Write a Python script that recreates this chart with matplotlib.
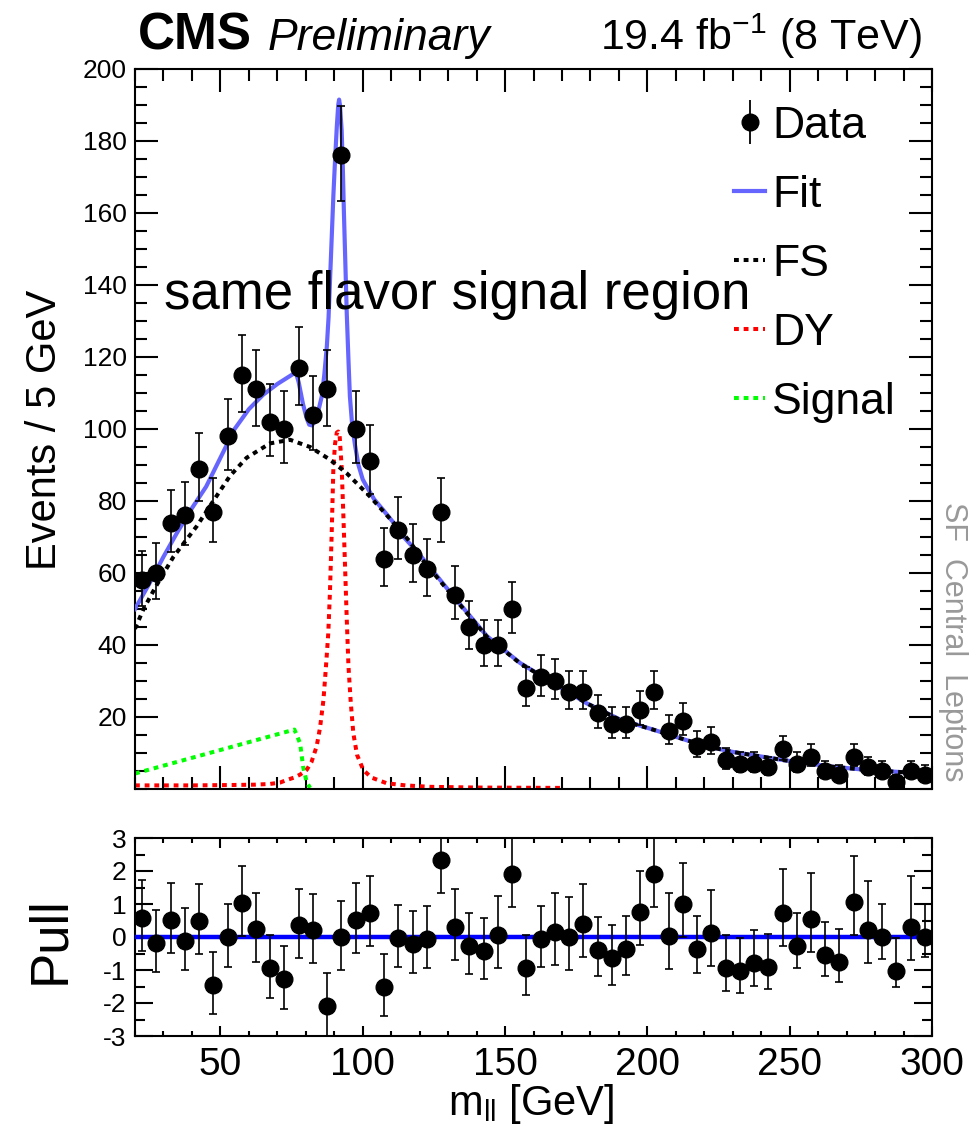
import numpy as np
import matplotlib as mpl
mpl.use('Agg')
import matplotlib.pyplot as plt
from matplotlib.lines import Line2D

mpl.rcParams['font.family'] = ['Liberation Sans', 'DejaVu Sans']
mpl.rcParams['axes.unicode_minus'] = False
mpl.rcParams['mathtext.fontset'] = 'custom'
mpl.rcParams['mathtext.rm'] = 'Liberation Sans'
mpl.rcParams['mathtext.it'] = 'Liberation Sans:italic'

# ---- data ----
mll = np.arange(22.5, 300, 5)   # bin centres, 5 GeV bins
counts = [58, 60, 74, 76, 89, 77, 98, 115, 111, 102,
          100, 117, 104, 111, 176, 100, 91, 64, 72, 65,
          61, 77, 54, 45, 40, 40, 50, 28, 31, 30,
          27, 27, 21, 18, 18, 22, 27, 16, 19, 12,
          13, 8, 7, 7, 6, 11, 7, 9, 5, 4,
          9, 6, 5, 2, 5, 4]
pulls = [0.59, -0.19, 0.52, -0.11, 0.49, -1.45, -0.01, 1.04, 0.23, -0.93,
         -1.28, 0.36, 0.21, -2.08, 0.0, 0.52, 0.74, -1.52, -0.02, -0.21,
         -0.06, 2.33, 0.31, -0.27, -0.41, 0.06, 1.90, -0.93, -0.06, 0.14,
         0.01, 0.38, -0.39, -0.65, -0.35, 0.76, 1.91, 0.04, 0.99, -0.35,
         0.11, -0.93, -1.02, -0.80, -0.92, 0.72, -0.26, 0.54, -0.55, -0.75,
         1.05, 0.21, -0.01, -1.02, 0.29, -0.01]

# fit curves, sampled from the figure
fit_x = [20, 25, 30, 35, 40, 45, 50, 55, 60, 65, 70, 75, 76.5,
         77.5, 79, 80.3, 81.2, 82.2, 83.2, 84.4, 85.6, 86.5, 87.4, 88.0, 88.5,
         89.1, 89.7, 90.3, 90.9, 91.4, 91.7, 92.0, 92.6, 93.0, 93.4, 93.9, 94.4,
         95.0, 95.5, 96.3, 97.3, 98.5, 100, 101.4, 104, 107.2, 110.8, 114.3,
         120.1, 131.8, 143.6, 155.3, 167, 178.7, 190.4, 202, 214, 223, 230,
         248, 265, 277, 289, 300]
fit_y = [50, 57, 64.5, 71.5, 78, 84, 92, 100, 105.5, 109.5, 112.5, 115, 115.8,
         113, 107, 103, 101.2, 101, 102.5, 105, 109, 115, 123, 131, 141,
         153, 165, 175, 184, 190, 191.5, 190, 183, 173, 160, 146, 132,
         119, 109, 101, 95.5, 90, 86, 84, 80.5, 77.5, 74, 70.1,
         65, 53.6, 42.5, 35, 29.4, 23.8, 19.3, 16.5, 13.5, 11.5, 10.3,
         8.0, 6.2, 5.3, 4.7, 4.3]

fs_x = [20, 23, 27.5, 33.5, 41.7, 47.5, 53.4, 59.2, 67.4, 74.5, 81.5, 88.5,
        94.4, 102.6, 110.8, 116.8, 120.1, 131.8, 143.6, 155.3, 167, 178.7,
        190.4, 202, 214, 223, 230, 248, 265, 277, 289, 300]
fs_y = [44.5, 50, 56.5, 64.5, 73, 80, 87, 92, 96, 97, 95, 91.5,
        87.7, 81.2, 74, 68.5, 64.5, 53.4, 42.3, 34.9, 29.4, 23.8,
        19.2, 16.5, 13.5, 11.5, 10.3, 8.0, 6.2, 5.3, 4.7, 4.3]

dy_x = [20, 40, 53, 62, 67.4, 71, 73.3, 76, 78, 80.3, 82, 83.8, 85, 86.2, 87,
        87.9, 88.5, 89.1, 89.7, 90.3, 90.9, 91.4, 91.9, 92.6, 93.2, 93.8,
        94.4, 95, 95.8, 96.7, 98, 100.2, 103, 108.4, 115, 123.7, 140, 170]
dy_y = [1.0, 1.0, 1.1, 1.2, 1.4, 1.8, 2.5, 3.2, 4.0, 5.3, 7.5, 11.8, 17, 24.7, 33,
        43.2, 55, 71, 89.5, 96, 99, 99.3, 98, 89.5, 76, 61.7,
        47, 34, 24, 15.5, 9.5, 5.3, 3.2, 1.6, 1.0, 0.6, 0.4, 0.3]

sig_x = [20, 76, 78, 79.1, 80.3, 81.5]
sig_y = [4.3, 16.5, 12.7, 6.0, 2.0, 0.3]

# poisson-like asymmetric errors
n = np.array(counts, dtype=float)
err_lo = np.sqrt(n + 0.25) - 0.5
err_hi = np.sqrt(n + 0.25) + 0.5
p = np.array(pulls)
p_lo = np.where(p < 0, err_lo / err_hi, 1.0)
p_hi = np.where(p < 0, 1.0, err_hi / err_lo)

W, H = 980, 1129
fig = plt.figure(figsize=(W / 100, H / 100), dpi=100)
ax = fig.add_axes([135 / W, 1 - 789 / H, 797 / W, 720 / H])
ax2 = fig.add_axes([135 / W, 1 - 1036 / H, 797 / W, 198 / H])

dot = (0, (1.2, 1.2))
dlw = 2.9
ax.plot(sig_x, sig_y, color='#00ff00', lw=dlw, ls=dot, zorder=2)
ax.plot(dy_x, dy_y, color='#ff0000', lw=dlw, ls=dot, zorder=2)
ax.plot(fit_x, fit_y, color='#6666ff', lw=3, zorder=3)
ax.plot(fs_x, fs_y, color='black', lw=dlw, ls=dot, zorder=4)
ax.errorbar(mll, counts, yerr=[err_lo, err_hi], fmt='o', color='black', ms=12,
            ecolor='black', elinewidth=1.2, capsize=3, capthick=1.2, zorder=5)

ax.set_xlim(20, 300)
ax.set_ylim(0, 200)
ax.set_yticks(np.arange(20, 201, 20))
ax.set_yticks(np.arange(0, 201, 5), minor=True)
ax.set_xticks(np.arange(50, 301, 50))
ax.set_xticks(np.arange(20, 301, 10), minor=True)
ax.tick_params(which='both', direction='in', top=True, right=True, width=1.5,
               labelbottom=False, labelsize=19, pad=6)
ax.tick_params(which='major', length=16.5)
ax.tick_params(which='minor', length=8.6)

data_h = (Line2D([], [], marker='|', ms=32, mew=1.3, color='black', ls='none'),
          Line2D([], [], marker='o', ms=12, color='black', ls='none'))
h = [data_h,
     Line2D([], [], color='#6666ff', lw=3),
     Line2D([], [], color='black', lw=dlw, ls=dot),
     Line2D([], [], color='#ff0000', lw=dlw, ls=dot),
     Line2D([], [], color='#00ff00', lw=dlw, ls=dot)]
ax.legend(h, ['Data', 'Fit', 'FS', 'DY', 'Signal'], loc='upper left',
          bbox_to_anchor=(0.752, 0.949), frameon=False, fontsize=32,
          handlelength=0.7, handletextpad=0.15, labelspacing=0.63, borderpad=0,
          borderaxespad=0)

ax.text(0.404, 0.686, 'same flavor signal region', transform=ax.transAxes,
        ha='center', va='center', fontsize=38)

ax2.errorbar(mll, pulls, yerr=[p_lo, p_hi], fmt='o', color='black', ms=12,
             ecolor='black', elinewidth=1.2, capsize=3, capthick=1.2, zorder=5)
ax2.axhline(0, color='#0000ff', lw=3.2, zorder=3)
ax2.set_xlim(20, 300)
ax2.set_ylim(-3, 3)
ax2.set_yticks(np.arange(-3, 4, 1))
ax2.set_yticks(np.arange(-3, 3.1, 0.5), minor=True)
ax2.set_xticks(np.arange(50, 301, 50))
ax2.set_xticks(np.arange(20, 301, 10), minor=True)
ax2.tick_params(which='both', direction='in', top=True, right=True, width=1.5)
ax2.tick_params(axis='y', labelsize=19, pad=6)
ax2.tick_params(axis='y', which='major', length=13)
ax2.tick_params(axis='y', which='minor', length=7)
ax2.tick_params(axis='x', labelsize=28, pad=8)
ax2.tick_params(axis='x', which='major', length=7)
ax2.tick_params(axis='x', which='minor', length=3.6)

for a in (ax, ax2):
    for s in a.spines.values():
        s.set_linewidth(1.5)

fig.text(138 / W, 1 - 50 / H, 'CMS', weight='bold', fontsize=37, va='baseline')
fig.text(268 / W, 1 - 50 / H, 'Preliminary', style='italic', fontsize=32, va='baseline')
fig.text(922 / W, 1 - 50 / H, r'19.4 $\mathregular{fb^{-1}}$ (8 TeV)', fontsize=31,
         ha='right', va='baseline')
fig.text(45 / W, 1 - 430 / H, 'Events / 5 GeV', rotation=90, fontsize=30,
         ha='center', va='center')
fig.text(50 / W, 1 - 940 / H, 'Pull', rotation=90, fontsize=38, ha='center', va='center')
fig.text(531 / W, 1 - 1104 / H, r'$\mathregular{m_{ll}}$ [GeV]', fontsize=30,
         ha='center', va='center')
fig.text(953 / W, 1 - 642 / H, 'SF  Central  Leptons', rotation=-90, color='#999999',
         fontsize=22, ha='center', va='center')

fig.savefig('out.png', dpi=100)
